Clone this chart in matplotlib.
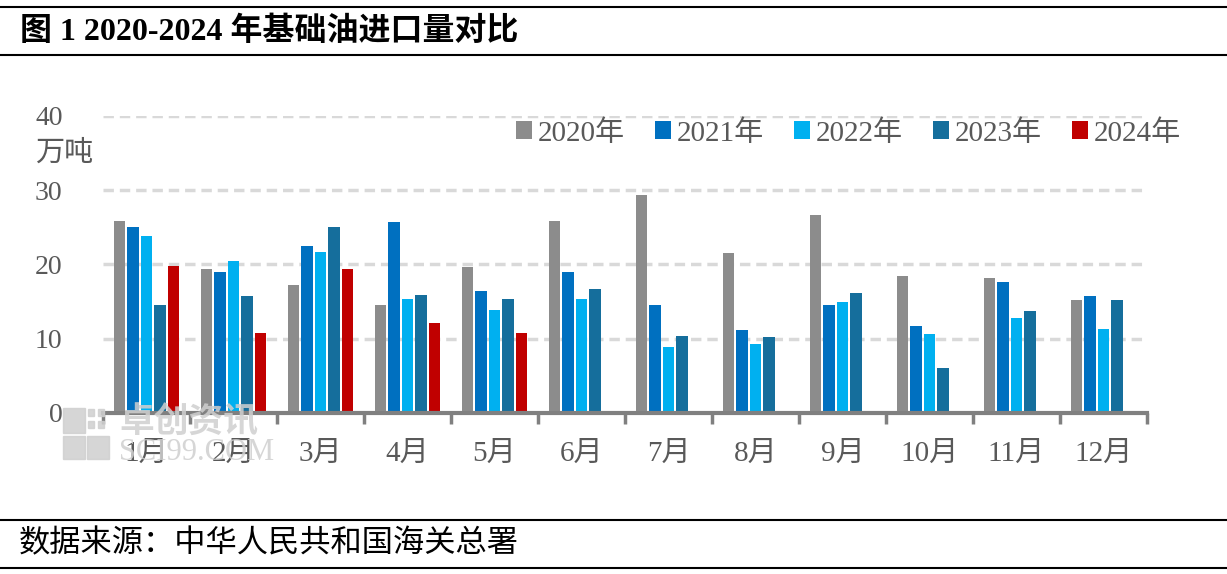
import numpy as np
import matplotlib.pyplot as plt
from matplotlib.lines import Line2D
from matplotlib.patches import Rectangle

plt.rcParams['font.family'] = ['Liberation Serif', 'Noto Sans CJK SC', 'DejaVu Sans']

# Daten (万吨)
months = ['1月', '2月', '3月', '4月', '5月', '6月', '7月', '8月', '9月', '10月', '11月', '12月']
years = ['2020年', '2021年', '2022年', '2023年', '2024年']
v2020 = [25.8, 19.4, 17.3, 14.6, 19.6, 25.9, 29.4, 21.5, 26.7, 18.5, 18.2, 15.2]
v2021 = [25.0, 19.0, 22.5, 25.7, 16.4, 19.0, 14.5, 11.2, 14.6, 11.7, 17.7, 15.8]
v2022 = [23.9, 20.5, 21.7, 15.4, 13.9, 15.4, 8.9, 9.3, 15.0, 10.6, 12.8, 11.3]
v2023 = [14.5, 15.8, 25.1, 15.9, 15.3, 16.7, 10.4, 10.2, 16.1, 6.1, 13.8, 15.2]
v2024 = [19.8, 10.8, 19.4, 12.1, 10.8]
colors = ['#8c8c8c', '#0070c0', '#00b0f0', '#156e9c', '#c00000']

series = [v2020, v2021, v2022, v2023, v2024]

fig = plt.figure(figsize=(12.27, 5.74), dpi=100)
ax = fig.add_axes([0.0839, 0.2805, 0.8509, 0.5175])

x = np.arange(len(months))
step = 0.155
for i, (vals, col, lab) in enumerate(zip(series, colors, years)):
    xs = x[:len(vals)] + (i - 2) * step
    ax.bar(xs, vals, width=0.135, color=col, label=lab, zorder=3)

ax.set_xlim(-0.5, len(months) - 0.5)
ax.set_ylim(0, 40)
ax.set_yticks([0, 10, 20, 30, 40])
ax.set_yticklabels(['0', '10', '20', '30', '40'], fontsize=20, color='#595959')
ax.yaxis.grid(True, linestyle=(0, (3, 1.7)), color='#d9d9d9', linewidth=2.5, zorder=0)
ax.tick_params(axis='y', length=0, pad=29)

ax.set_xticks(np.arange(-0.5, len(months), 1.0))
ax.set_xticklabels([])
ax.set_xticks(x, minor=True)
ax.set_xticklabels(months, minor=True, fontsize=21, color='#595959')
ax.tick_params(axis='x', which='major', length=8, width=2.5, color='#808080')
ax.tick_params(axis='x', which='minor', length=0, pad=20)

for s in ['top', 'right', 'left']:
    ax.spines[s].set_visible(False)
ax.spines['bottom'].set_color('#808080')
ax.spines['bottom'].set_linewidth(3)
ax.spines['bottom'].set_zorder(4)

ax.legend(loc='upper right', bbox_to_anchor=(1.058, 1.075), ncol=5, frameon=False,
          fontsize=21, handlelength=0.55, handleheight=0.55, handletextpad=0.2,
          columnspacing=1.03, labelcolor='#595959')

fig.text(0.0285, 0.733, '万吨', fontsize=21, color='#595959', va='center')

# Titel und Quelle
fig.add_artist(Line2D([0, 1], [0.988, 0.988], color='black', lw=1.5))
fig.add_artist(Line2D([0, 1], [0.904, 0.904], color='black', lw=1.5))
fig.text(0.016, 0.944, '图 1 2020-2024 年基础油进口量对比', fontsize=23,
         fontweight='bold', va='center', color='black')
fig.add_artist(Line2D([0, 1], [0.094, 0.094], color='black', lw=1.5))
fig.add_artist(Line2D([0, 1], [0.011, 0.011], color='black', lw=1.5))
fig.text(0.015, 0.051, '数据来源：中华人民共和国海关总署', fontsize=22.5,
         va='center', color='black')

# Wasserzeichen
wm = '#cfcfcf'
for rx, ry, rw, rh in [(0.051, 0.245, 0.018, 0.045), (0.051, 0.2, 0.018, 0.04),
                       (0.071, 0.2, 0.018, 0.04)]:
    fig.add_artist(Rectangle((rx, ry), rw, rh, transform=fig.transFigure,
                             color=wm, alpha=0.85, zorder=1))
for dx in [0.072, 0.08]:
    for dy in [0.255, 0.275]:
        fig.add_artist(Rectangle((dx, dy), 0.005, 0.012, transform=fig.transFigure,
                                 color=wm, alpha=0.85, zorder=1))
fig.text(0.097, 0.262, '卓创资讯', fontsize=25, color=wm, alpha=0.85,
         va='center', fontweight='bold', zorder=1)
fig.text(0.097, 0.212, 'SCI99.COM', fontsize=22, color=wm, alpha=0.85,
         va='center', zorder=1)

fig.savefig('out.png', dpi=100)
